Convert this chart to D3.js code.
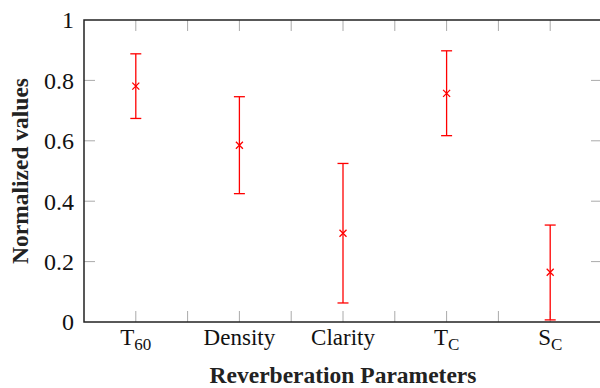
<!DOCTYPE html>
<html>
<head>
<meta charset="utf-8">
<script src="https://cdn.jsdelivr.net/npm/d3@7"></script>
<style>
  body { margin: 0; background: #fff; }
</style>
</head>
<body>
<div id="chart"></div>
<script>
// categories: base text + subscript
const labelBase = ['T', 'Density', 'Clarity', 'T', 'S'];
const labelSub = ['60', '', '', 'C', 'C'];
const means = [0.781, 0.585, 0.294, 0.757, 0.165];
const upper = [0.888, 0.746, 0.525, 0.898, 0.321];
const lower = [0.674, 0.425, 0.063, 0.617, 0.007];
const yTicks = [0, 0.2, 0.4, 0.6, 0.8, 1];

const width = 600, height = 388;
const margin = { top: 20, right: -2, bottom: 66, left: 84 };
const serif = '"Liberation Serif", "Times New Roman", Times, serif';

const svg = d3.select('#chart').append('svg')
    .attr('width', width)
    .attr('height', height)
    .attr('font-family', serif)
    .style('font-family', serif);

const x = d3.scaleLinear()
    .domain([0.5, labelBase.length + 0.5])
    .range([margin.left, width - margin.right]);

const y = d3.scaleLinear()
    .domain([0, 1])
    .range([height - margin.bottom, margin.top]);

const tickLen = 11;
const ticksG = svg.append('g').attr('stroke', '#aaa').attr('stroke-width', 1);

// x ticks at categories and midpoints, inward on bottom and top
const xTickVals = d3.range(1, labelBase.length + 0.01, 0.5);
xTickVals.forEach(v => {
    ticksG.append('line')
        .attr('x1', x(v)).attr('x2', x(v))
        .attr('y1', y(0)).attr('y2', y(0) - tickLen);
    ticksG.append('line')
        .attr('x1', x(v)).attr('x2', x(v))
        .attr('y1', y(1)).attr('y2', y(1) + tickLen);
});

// y ticks inward on left and right
yTicks.slice(1, -1).forEach(v => {
    ticksG.append('line')
        .attr('x1', x.range()[0]).attr('x2', x.range()[0] + tickLen)
        .attr('y1', y(v)).attr('y2', y(v));
    ticksG.append('line')
        .attr('x1', x.range()[1]).attr('x2', x.range()[1] - tickLen)
        .attr('y1', y(v)).attr('y2', y(v));
});

// frame
svg.append('rect')
    .attr('x', x.range()[0])
    .attr('y', y(1))
    .attr('width', x.range()[1] - x.range()[0])
    .attr('height', y(0) - y(1))
    .attr('fill', 'none')
    .attr('stroke', '#222')
    .attr('stroke-width', 1.5);

// y tick labels
svg.append('g').selectAll('text')
    .data(yTicks)
    .join('text')
    .attr('x', x.range()[0] - 10)
    .attr('y', d => y(d))
    .attr('dy', '0.35em')
    .attr('text-anchor', 'end')
    .attr('fill', '#111')
    .style('font-size', '24px')
    .text(d => d3.format('~g')(d));

// x tick labels
const xl = svg.append('g').selectAll('text')
    .data(labelBase)
    .join('text')
    .attr('x', (d, i) => x(i + 1))
    .attr('y', 345)
    .attr('text-anchor', 'middle')
    .attr('fill', '#111')
    .style('font-size', '23px');
xl.append('tspan').text(d => d);
xl.append('tspan')
    .attr('dy', 5)
    .style('font-size', '17px')
    .text((d, i) => labelSub[i]);

// error bars
const red = '#ff0000';
const capW = 5.5;
const bars = svg.append('g')
    .attr('stroke', red)
    .attr('stroke-width', 1.3)
    .selectAll('g')
    .data(means)
    .join('g');

bars.append('line')
    .attr('x1', (d, i) => x(i + 1)).attr('x2', (d, i) => x(i + 1))
    .attr('y1', (d, i) => y(lower[i])).attr('y2', (d, i) => y(upper[i]));
bars.append('line')
    .attr('x1', (d, i) => x(i + 1) - capW).attr('x2', (d, i) => x(i + 1) + capW)
    .attr('y1', (d, i) => y(upper[i])).attr('y2', (d, i) => y(upper[i]));
bars.append('line')
    .attr('x1', (d, i) => x(i + 1) - capW).attr('x2', (d, i) => x(i + 1) + capW)
    .attr('y1', (d, i) => y(lower[i])).attr('y2', (d, i) => y(lower[i]));

// x markers
const m = 3.5;
bars.append('path')
    .attr('d', (d, i) => {
        const cx = x(i + 1), cy = y(d);
        return `M${cx - m},${cy - m}L${cx + m},${cy + m}M${cx - m},${cy + m}L${cx + m},${cy - m}`;
    })
    .attr('fill', 'none');

// axis labels
svg.append('text')
    .attr('x', (x.range()[0] + x.range()[1]) / 2)
    .attr('y', 383)
    .attr('text-anchor', 'middle')
    .attr('fill', '#222')
    .style('font-size', '23.5px')
    .style('font-weight', 'bold')
    .text('Reverberation Parameters');

svg.append('text')
    .attr('transform', `translate(28, ${(y(0) + y(1)) / 2}) rotate(-90)`)
    .attr('text-anchor', 'middle')
    .attr('fill', '#222')
    .style('font-size', '23.5px')
    .style('font-weight', 'bold')
    .text('Normalized values');
</script>
</body>
</html>
